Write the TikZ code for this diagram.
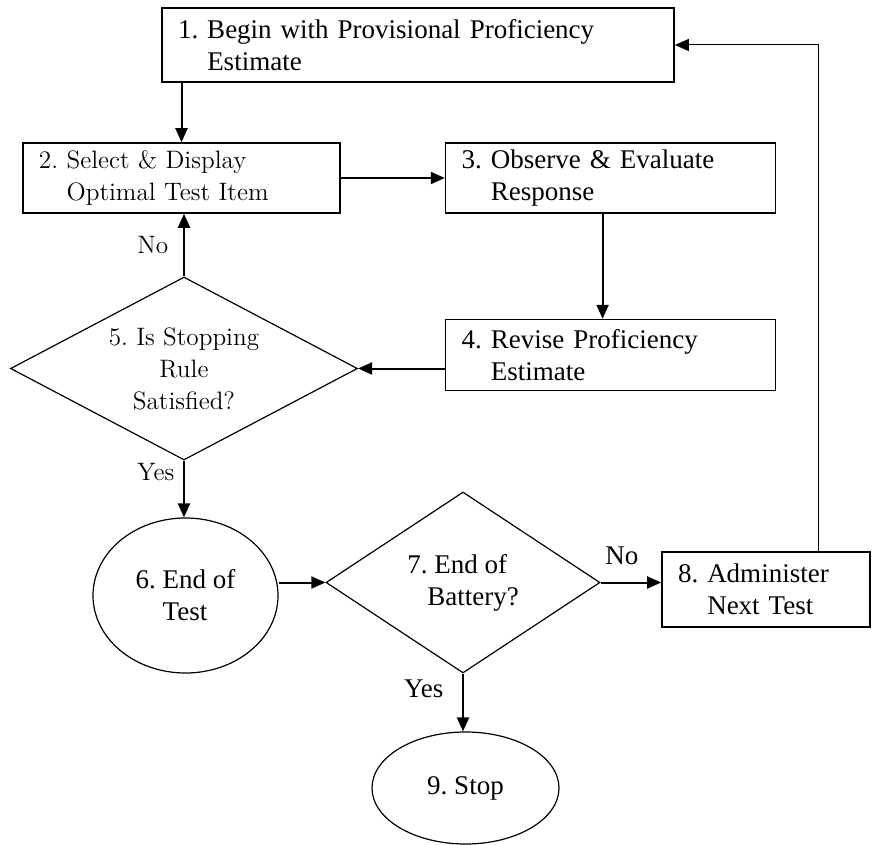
\documentclass[tikz,border=0pt]{standalone}
\usepackage{fontspec}
\newfontfamily\tnr{Liberation Serif}
\usetikzlibrary{positioning, shapes, arrows.meta}

\begin{document}
\begin{tikzpicture}[x=0.5pt, y=-0.5pt]
    \tikzstyle{stepbox} = [draw, rectangle, thick, align=left, inner xsep=8pt, inner ysep=0pt];
    \tikzstyle{times} = [font=\tnr\frenchspacing\fontsize{13.5}{16}\selectfont];
    \tikzstyle{century} = [font=\frenchspacing\fontsize{12.6}{16}\selectfont];
    \tikzstyle{decision} = [draw, diamond, semithick, inner sep=-6pt, aspect=1.9];
    \tikzstyle{terminal} = [draw, ellipse, semithick, inner sep=0pt];
    \tikzstyle{flow} = [line width=1pt, -{Triangle[length=7pt, width=6pt]}];

    \useasboundingbox (0, 0) rectangle (872, 845);

    \node[stepbox, times, text width=240pt, minimum height=37pt] (B1) at (418, 45) {1. Begin with Provisional Proficiency\\\phantom{1. }Estimate};
    \node[stepbox, century, text width=142.5pt, minimum height=35pt] (B2) at (181.5, 178) {2. Select \& Display\\\phantom{2. }Optimal Test Item};
    \node[stepbox, times, text width=149pt, minimum height=35pt, right = 52pt of B2] (B3) {3. Observe \& Evaluate\\\phantom{3. }Response};
    \node[stepbox, times, text width=149pt, minimum height=35.5pt, below = 52.5pt of B3] (B4) {4. Revise Proficiency\\\phantom{4. }Estimate};

    \node[decision, century, align=center, minimum width=173.5pt, minimum height=91.5pt] (D5) at (184, 368.5) {5. Is Stopping\\Rule\\Satisfied?};
    \node[terminal, times, align=left, minimum width=92.5pt, minimum height=77.5pt] (E6) at (185.5, 595.5) {6. End of\\\phantom{6. }Test};
    \node[decision, times, align=left, minimum width=137pt, minimum height=90.5pt] (D7) at (463, 582.5) {7. End of\\\hspace*{10pt}Battery?};
    \node[stepbox, times, text width=88pt, minimum height=37.5pt] (B8) at (766, 589.5) {8. Administer\\\phantom{8. }Next Test};
    \node[terminal, times, minimum width=93.5pt, minimum height=56pt] (E9) at (465.5, 788) {9. Stop};

    \draw[flow] (B1.south -| B2.north) -- (B2.north);
    \draw[flow] (B2.east) -- (B3.west);
    \draw[flow] ([xshift=-4pt]B3.south) -- ([xshift=-4pt]B4.north);
    \draw[flow] (B4.west |- D5.east) -- (D5.east);

    \draw[flow] (D5.north) -- node[century, left=4pt] (no5) {No} (D5.north |- B2.south);
    \draw[flow] (D5.south) -- node[century, left=1pt, pos=0.2] (yes5) {Yes} (D5.south |- E6.north);

    \draw[flow] (E6.east |- D7.west) -- (D7.west);
    \draw[flow] (D7.east) -- node[times, above=5pt, pos=0.35] (no7) {No} (D7.east -| B8.west);
    \draw[flow] (D7.south) -- node[times, left=6pt, pos=0.27] (yes7) {Yes} (D7.south |- E9.north);

    \draw[line width=0.5pt, -{Triangle[length=7pt, width=6pt]}] ([xshift=26pt]B8.north) |- (B1.east);
\end{tikzpicture}
\end{document}
